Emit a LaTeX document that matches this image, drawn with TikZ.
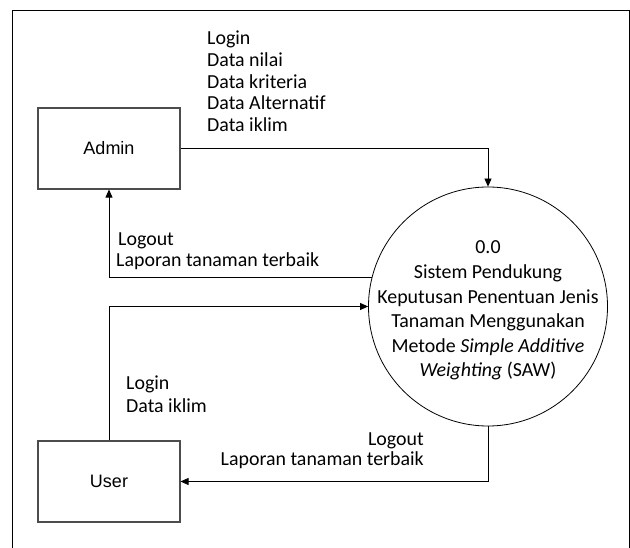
\documentclass[tikz,border=0pt]{standalone}
\usepackage{fontspec}
\setmainfont{Carlito}
\newfontfamily\arialf{Liberation Sans}
\usetikzlibrary{arrows.meta}
\begin{document}
\begin{tikzpicture}[x=1pt,y=-1pt,
  entity/.style={draw=black!70, line width=1.1pt, rectangle, minimum width=142pt, minimum height=81pt, inner sep=0pt, font=\arialf\fontsize{18}{21}\selectfont},
  flow/.style={draw=black, line width=0.8pt, -{Triangle[length=8pt,width=7pt]}},
  lbl/.style={inner sep=0pt, font=\fontsize{19.9}{21.7}\selectfont}]
\useasboundingbox (0,0) rectangle (630,548);
% frame
\draw[line width=0.9pt] (12,548) -- (12,10) -- (629,10) -- (629,548);
% entities
\node[entity] (admin) at (109,148.5) {Admin};
\node[entity] (user) at (109,481.5) {User};
\node[draw=black, line width=0.8pt, circle, minimum size=239pt, inner sep=0pt] (proc) at (488,306.5) {};
\node[lbl, align=center, anchor=base, font=\fontsize{19.9}{24.6}\selectfont] (proctext) at (488,377)
  {0.0\\Sistem Pendukung\\Keputusan Penentuan Jenis\\Tanaman Menggunakan\\Metode \emph{Simple Additive}\\\emph{Weighting} (SAW)};
% flows
\draw[flow] (admin.east) -| (proc.north);
\draw[flow] (proc.166.7) -| (admin.south);
\draw[flow] (user.north) |- (proc.west);
\draw[flow] (proc.south) |- (user.east);
% labels
\node[lbl, align=left, anchor=base west] (l1) at (207,131.7)
  {Login\\Data nilai\\Data kriteria\\Data Alternatif\\Data iklim};
\node[lbl, align=left, anchor=base west, font=\fontsize{19.9}{20.7}\selectfont] (l2) at (116,266.7)
  {\hspace{2pt}Logout\\Laporan tanaman terbaik};
\node[lbl, align=left, anchor=base west, font=\fontsize{19.9}{23}\selectfont] (l3) at (126,413)
  {Login\\Data iklim};
\node[lbl, align=right, anchor=base east, font=\fontsize{19.9}{20}\selectfont] (l4) at (424,465)
  {Logout\\Laporan tanaman terbaik};
\end{tikzpicture}
\end{document}
